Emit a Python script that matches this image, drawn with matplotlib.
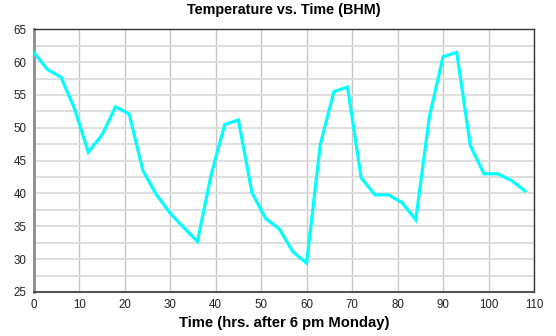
import matplotlib
matplotlib.use('Agg')
import matplotlib.pyplot as plt
import numpy as np

plt.rcParams['font.family'] = ['Liberation Sans', 'DejaVu Sans']

# temperature readings every 3 hours
hours = list(range(0, 109, 3))
temps = [61.5, 58.9, 57.7, 52.9, 46.3, 48.9, 53.2, 52.1, 43.5, 39.8,
         37.0, 34.8, 32.7, 42.8, 50.5, 51.2, 40.1, 36.2, 34.6, 31.1,
         29.4, 47.4, 55.5, 56.2, 42.4, 39.8, 39.8, 38.6, 36.0, 51.7,
         60.8, 61.5, 47.3, 43.0, 43.0, 42.0, 40.4]

x_ticks = list(range(0, 111, 10))
y_ticks = list(range(25, 66, 5))

fig = plt.figure(figsize=(5.56, 3.36), dpi=100)
ax = fig.add_axes([33.7 / 556, 44 / 336, (534 - 33.7) / 556, (292 - 29.3) / 336])

ax.plot(hours, temps, color='#00ffff', lw=2.3, solid_joinstyle='miter', zorder=3)

ax.set_xlim(0, 110)
ax.set_ylim(25, 65)
ax.set_xticks(x_ticks)
ax.set_yticks(y_ticks)
ax.set_yticks(np.arange(27.5, 65, 5), minor=True)

ax.grid(True, axis='x', color='#c8c8c8', lw=1.0)
ax.grid(True, axis='y', which='both', color='#dcdcdc', lw=1.3)
ax.set_axisbelow(True)

ax.tick_params(length=0, labelsize=8.3, colors='#222222', pad=5)
ax.tick_params(which='minor', length=0)

ax.spines['left'].set_color('#8c8c8c')
ax.spines['left'].set_linewidth(2.0)
ax.spines['bottom'].set_color('#555555')
ax.spines['bottom'].set_linewidth(1.5)
for s in ['top', 'right']:
    ax.spines[s].set_color('#333333')
    ax.spines[s].set_linewidth(1.0)

ax.set_title('Temperature vs. Time (BHM)', fontsize=10.4, fontweight='bold', pad=11)
ax.set_xlabel('Time (hrs. after 6 pm Monday)', fontsize=10.7, fontweight='bold', labelpad=4)

fig.savefig('out.png', dpi=100)
